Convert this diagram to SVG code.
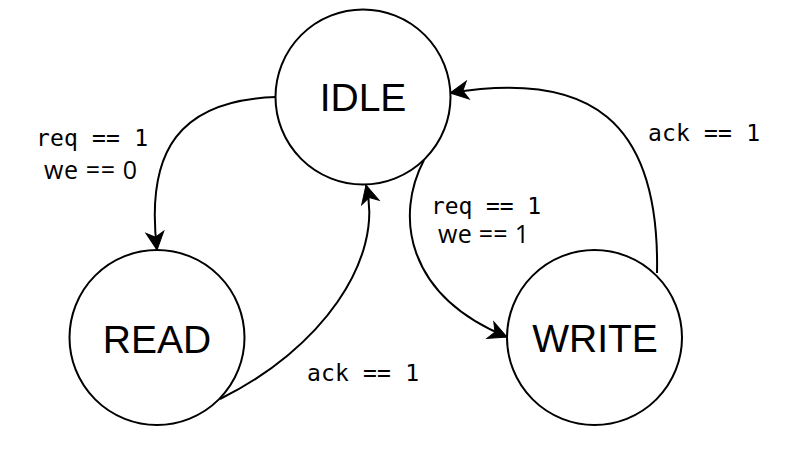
<svg xmlns="http://www.w3.org/2000/svg" width="792" height="467" viewBox="0 0 792 467">
<style>
.node{fill:#fff;stroke:#000;stroke-width:2}
.name{font-family:"Liberation Sans",Arial,sans-serif;font-size:39px;fill:#000;text-anchor:middle}
.edge{fill:none;stroke:#000;stroke-width:2;marker-end:url(#arr)}
.mono{font-family:"DejaVu Sans Mono",monospace;font-size:23px;fill:#000}
.sans{font-family:"Open Sans",sans-serif;font-size:25px;fill:#000}
</style>
<defs>
<marker id="arr" markerUnits="userSpaceOnUse" markerWidth="22" markerHeight="22" viewBox="-20 -11 22 22" refX="0" refY="0" orient="auto">
<path d="M0,0 L-18,-9 L-13,0 L-18,9 Z" fill="#000" stroke="#000" stroke-width="1" stroke-linejoin="miter"/>
</marker>
</defs>
<rect width="792" height="467" fill="#fff"/>
<g id="connectors">
<path class="edge" d="M276,97 C180,100 145,150 157,250"/>
<path class="edge" d="M220,399 C320,350 385,260 366,185"/>
<path class="edge" d="M424,160 C395,215 405,295 507,337"/>
<path class="edge" d="M657,273 C660,120 590,70 450,93"/>
</g>
<g id="labels">
<text class="mono" x="36" y="146" textLength="112" lengthAdjust="spacing">req == 1</text>
<text class="sans" x="44" y="178.5" textLength="93" lengthAdjust="spacing">we == 0</text>
<text class="mono" x="431" y="214" textLength="110" lengthAdjust="spacing">req == 1</text>
<text class="sans" x="438" y="243" textLength="91" lengthAdjust="spacing">we == 1</text>
<text class="mono" x="307" y="381" textLength="112" lengthAdjust="spacing">ack == 1</text>
<text class="mono" x="648" y="141" textLength="112" lengthAdjust="spacing">ack == 1</text>
</g>
<g id="IDLE">
<circle class="node" cx="363" cy="97" r="87.5"/>
<text class="name" x="363" y="111">IDLE</text>
</g>
<g id="READ">
<circle class="node" cx="157" cy="337.5" r="87.5"/>
<text class="name" x="157" y="352.5">READ</text>
</g>
<g id="WRITE">
<circle class="node" cx="594.5" cy="337.5" r="87.5"/>
<text class="name" x="595" y="351.5">WRITE</text>
</g>
</svg>
